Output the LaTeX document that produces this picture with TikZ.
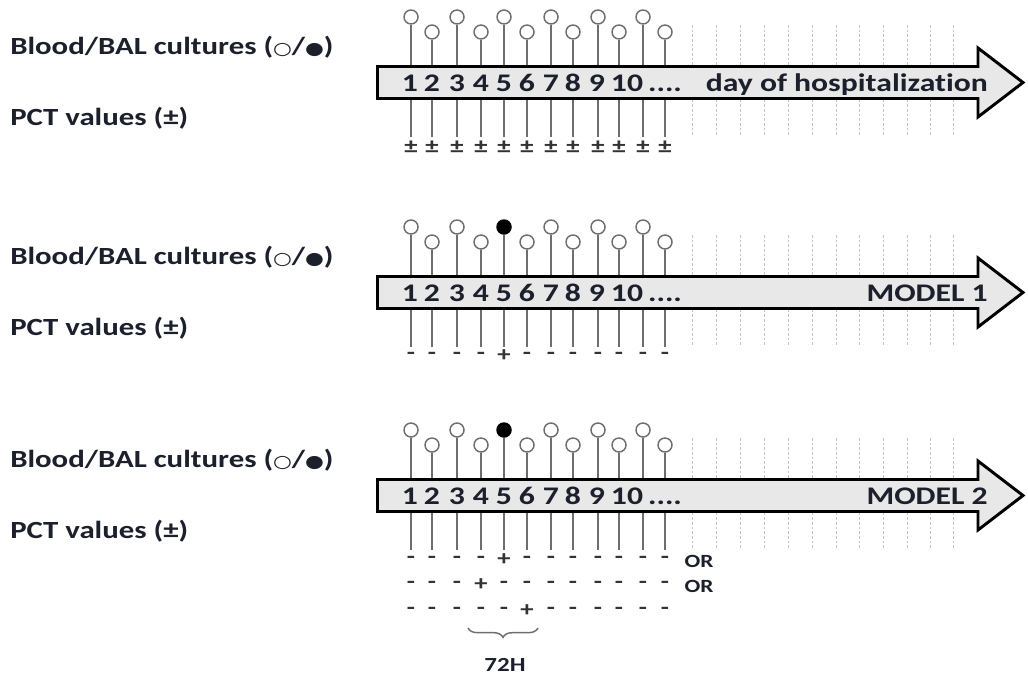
\documentclass[tikz,border=0pt]{standalone}
\usepackage{fontspec}
\setmainfont[Ligatures=NoCommon]{Carlito}
\newfontfamily\symfont{DejaVu Sans}
\usetikzlibrary{decorations.pathreplacing}

\definecolor{inkc}{RGB}{28,32,44}
\definecolor{stemc}{RGB}{110,110,110}
\definecolor{gridc}{RGB}{195,195,195}
\definecolor{barfill}{RGB}{232,232,232}
\definecolor{signc}{RGB}{50,50,55}

% the lettering is set a little wider than the font's natural width
\newcommand{\wide}[1]{\scalebox{1.25}[1]{#1}}

\tikzset{
  lbl/.style={anchor=west, inner sep=0pt, text=inkc,
    font=\fontsize{18.5pt}{21pt}\selectfont\bfseries},
  daynum/.style={anchor=base, inner sep=0pt, text=inkc,
    font=\fontsize{19pt}{22pt}\selectfont\bfseries},
  bartitle/.style={anchor=base east, inner sep=0pt, text=inkc,
    font=\fontsize{19pt}{22pt}\selectfont\bfseries},
  sign/.style={inner sep=0pt, text=signc,
    font=\fontsize{16pt}{18pt}\selectfont\bfseries},
  ortext/.style={inner sep=0pt, text=inkc,
    font=\fontsize{14pt}{16pt}\selectfont\bfseries},
  stem/.style={draw=stemc, line width=1.3pt},
  bulb/.style={circle, draw=stemc, fill=white, line width=1.1pt,
    minimum size=10.5pt, inner sep=0pt},
  bulbpos/.style={circle, draw=black, fill=black, line width=1.1pt,
    minimum size=10.5pt, inner sep=0pt},
  grid/.style={draw=gridc, line width=0.6pt, dash pattern=on 2pt off 1.5pt},
  timebar/.style={draw=black, line width=2.2pt, fill=barfill, line join=miter},
  bracec/.style={draw=stemc, line width=1.1pt,
    decorate, decoration={brace, amplitude=7pt}},
}

% day positions along the bar (pixel units)
\def\daysx{411,432,457,481,504,527,551,573,598,619,643,665}
\def\gridx{692,716,740,764,788,812,836,859,883,907,930,953}

\newcommand{\timeline}[4]{%
  % #1 vertical offset, #2 prefix, #3 bar title, #4 filled day (0 = none)
  \begin{scope}[yshift=-#1*0.75pt]
    \foreach \gx in \gridx {\draw[grid] (\gx,25) -- (\gx,137);}
    \foreach \dx [count=\i] in \daysx {
      \pgfmathsetmacro{\cy}{isodd(\i) ? 17 : 32}
      \coordinate (#2s\i) at (\dx,137);
      \ifnum\i=#4
        \node[bulbpos] (#2c\i) at (\dx,\cy) {};
      \else
        \node[bulb] (#2c\i) at (\dx,\cy) {};
      \fi
      \draw[stem] (#2c\i.south) -- (#2s\i);
    }
    \draw[timebar] (377.5,66.5) -- (978,66.5) -- (978,48) -- (1023,82.5)
      -- (978,117) -- (978,98.5) -- (377.5,98.5) -- cycle;
    \foreach \dx [count=\i] in {410,432,457,481,504,527,551,573,597} {
      \node[daynum] (#2n\i) at (\dx,91.5) {\wide{\i}};
    }
    \node[daynum] (#2n10) at (627,91.5) {\wide{10}};
    \node[daynum] (#2dots) at (665,91.5) {\wide{....}};
    \node[bartitle] (#2title) at (988,91.5) {\wide{#3}};
    \node[lbl] (#2blood) at (10,47) {\wide{Blood/BAL cultures ({\symfont\scalebox{0.7}{○}}/{\symfont\scalebox{0.7}{●}})}};
    \node[lbl] (#2pct) at (10,118) {\wide{PCT values (±)}};
  \end{scope}}

\begin{document}
\begin{tikzpicture}[x=0.75pt, y=-0.75pt]
  \useasboundingbox (0,0) rectangle (1028,675);

  % panel 1: all days with open cultures and undetermined PCT
  \timeline{0}{a}{day of hospitalization}{0}
  \foreach \dx [count=\i] in \daysx {\node[sign] (apm\i) at (\dx,147) {\wide{±}};}

  % panel 2: positive culture on day 5, PCT positive that day
  \timeline{210}{b}{MODEL 1}{5}
  \foreach \dx [count=\i] in \daysx {
    \ifnum\i=5 \node[sign] (bpm\i) at (\dx,356) {\wide{+}};
    \else \node[sign] (bpm\i) at (\dx,356) {\wide{-}};\fi}

  % panel 3: positive culture on day 5, PCT positive within 72 h window
  \timeline{413}{c}{MODEL 2}{5}
  \foreach \row/\yy/\pos in {1/560/5, 2/585/4, 3/611/6} {
    \foreach \dx [count=\i] in \daysx {
      \ifnum\i=\pos \node[sign] (c\row pm\i) at (\dx,\yy) {\wide{+}};
      \else \node[sign] (c\row pm\i) at (\dx,\yy) {\wide{-}};\fi}
  }
  \node[ortext] (or1) at (699,561) {\wide{OR}};
  \node[ortext] (or2) at (699,586) {\wide{OR}};
  \coordinate (brR) at (538,628);
  \coordinate (brL) at (468,628);
  \draw[bracec] (brR) -- (brL);
  \node[ortext, font=\fontsize{15pt}{17pt}\selectfont\bfseries] (h72) at (505,665) {\wide{72H}};
\end{tikzpicture}
\end{document}
